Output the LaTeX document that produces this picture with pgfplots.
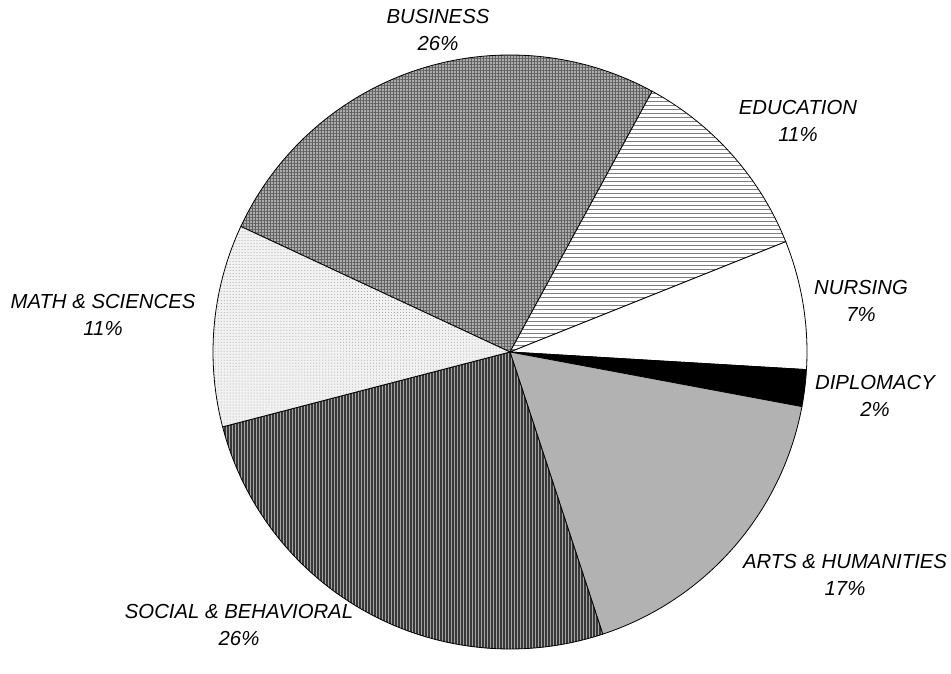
\documentclass[border=0pt]{standalone}
\usepackage{pgfplots}
\pgfplotsset{compat=1.18}
\usetikzlibrary{patterns,patterns.meta}
\usepackage{fontspec}
\setmainfont{Liberation Sans}

% pie centre and radius in axis units (1 unit = 1bp)
\def\cx{510}\def\cy{322}\def\rad{297}
\def\angle{155}% start: boundary math / business, going clockwise

\newcommand\slice[2]{%
  \pgfmathsetmacro\a{\angle}%
  \pgfmathsetmacro\b{\angle-3.6*#1}%
  \edef\cmd{\noexpand\path[\unexpanded{#2}, draw=black, line width=0.8bp]
    (axis cs:\cx,\cy) -- ++(\a:\rad bp) arc[start angle=\a, end angle=\b, radius=\rad bp] -- cycle;}%
  \cmd
  \global\let\angle\b
}

\tikzset{lbl/.style={font=\itshape\fontsize{20.4}{28}\selectfont, align=center, inner sep=0pt}}

\begin{document}
\begin{tikzpicture}
\begin{axis}[
    hide axis, scale only axis,
    width=951bp, height=674bp,
    xmin=0, xmax=951, ymin=0, ymax=674,
    clip=false,
]
\path (axis cs:0,0) (axis cs:951,674);
% values in percent, clockwise
\slice{26}{preaction={fill=black!32}, pattern={Hatch[distance=3bp, line width=1bp]}, pattern color=black!62}
\slice{11}{preaction={fill=white}, pattern={Lines[angle=0, distance=4bp, line width=1bp]}, pattern color=black!50}
\slice{7}{fill=white}
\slice{2}{fill=black}
\slice{17}{fill=black!30}
\slice{26}{preaction={fill=black!35}, pattern={Lines[angle=90, distance=3bp, line width=1.2bp]}, pattern color=black!78}
\slice{11}{preaction={fill=black!5}, pattern=dots, pattern color=black!40}

\node[lbl] at (axis cs:438,644) {BUSINESS\\26\%};
\node[lbl] at (axis cs:798,553) {EDUCATION\\11\%};
\node[lbl] at (axis cs:861,373) {NURSING\\7\%};
\node[lbl] at (axis cs:875,278) {DIPLOMACY\\2\%};
\node[lbl] at (axis cs:845,99) {ARTS \& HUMANITIES\\17\%};
\node[lbl] at (axis cs:239,49) {SOCIAL \& BEHAVIORAL\\26\%};
\node[lbl] at (axis cs:103,359) {MATH \& SCIENCES\\11\%};
\end{axis}
\end{tikzpicture}
\end{document}
